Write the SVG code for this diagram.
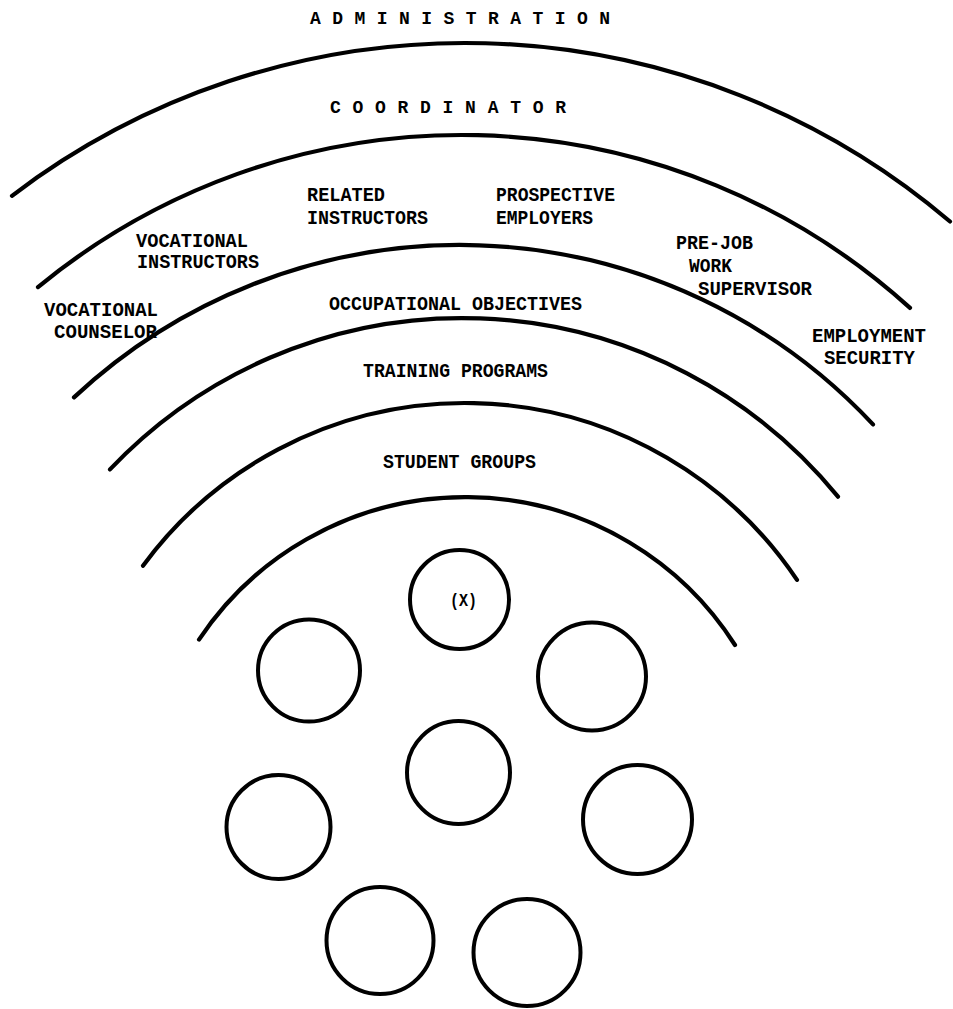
<svg xmlns="http://www.w3.org/2000/svg" width="953" height="1009" viewBox="0 0 953 1009">
<style>
  .arc { fill: none; stroke: #000; stroke-width: 4.2; stroke-linecap: round; }
  .grp { fill: none; stroke: #000; stroke-width: 4; }
  .lbl { font-family: "Liberation Mono", "DejaVu Sans Mono", monospace; font-weight: bold; font-size: 21px; fill: #000; }
  .sp { font-size: 18px; }
</style>
<rect width="953" height="1009" fill="#fff"/>

<g id="arcs">
  <path class="arc" d="M 12 195.8 A 748 748 0 0 1 950 221.5"/>
  <path class="arc" d="M 38 287.1 A 667 667 0 0 1 910 307.9"/>
  <path class="arc" d="M 74 397.4 A 565 565 0 0 1 873 424.4"/>
  <path class="arc" d="M 110 469.4 A 485 485 0 0 1 838 496.7"/>
  <path class="arc" d="M 143 565.7 A 400 400 0 0 1 797 579.9"/>
  <path class="arc" d="M 199 639.6 A 320 320 0 0 1 735 645"/>
</g>

<g id="labels">
  <text class="lbl sp" x="310" y="24" textLength="300" lengthAdjust="spacing">ADMINISTRATION</text>
  <text class="lbl sp" x="330" y="112.5" textLength="236" lengthAdjust="spacing">COORDINATOR</text>
  <g id="related-instructors">
    <text class="lbl" x="307" y="201" textLength="78" lengthAdjust="spacingAndGlyphs">RELATED</text>
    <text class="lbl" x="307" y="224" textLength="121" lengthAdjust="spacingAndGlyphs">INSTRUCTORS</text>
  </g>
  <g id="prospective-employers">
    <text class="lbl" x="496" y="201" textLength="119" lengthAdjust="spacingAndGlyphs">PROSPECTIVE</text>
    <text class="lbl" x="496" y="224" textLength="97" lengthAdjust="spacingAndGlyphs">EMPLOYERS</text>
  </g>
  <g id="vocational-instructors">
    <text class="lbl" x="136" y="247" textLength="112" lengthAdjust="spacingAndGlyphs">VOCATIONAL</text>
    <text class="lbl" x="137" y="268" textLength="122" lengthAdjust="spacingAndGlyphs">INSTRUCTORS</text>
  </g>
  <g id="vocational-counselor">
    <text class="lbl" x="44" y="316" textLength="114" lengthAdjust="spacingAndGlyphs">VOCATIONAL</text>
    <text class="lbl" x="54" y="338" textLength="103" lengthAdjust="spacingAndGlyphs">COUNSELOR</text>
  </g>
  <g id="pre-job-work-supervisor">
    <text class="lbl" x="676" y="249" textLength="77" lengthAdjust="spacingAndGlyphs">PRE-JOB</text>
    <text class="lbl" x="689" y="272" textLength="43" lengthAdjust="spacingAndGlyphs">WORK</text>
    <text class="lbl" x="698" y="295" textLength="114" lengthAdjust="spacingAndGlyphs">SUPERVISOR</text>
  </g>
  <g id="employment-security">
    <text class="lbl" x="812" y="342" textLength="114" lengthAdjust="spacingAndGlyphs">EMPLOYMENT</text>
    <text class="lbl" x="824" y="364" textLength="91" lengthAdjust="spacingAndGlyphs">SECURITY</text>
  </g>
  <text id="occupational-objectives" class="lbl" x="329" y="310" textLength="253" lengthAdjust="spacingAndGlyphs">OCCUPATIONAL OBJECTIVES</text>
  <text id="training-programs" class="lbl" x="363" y="377" textLength="185" lengthAdjust="spacingAndGlyphs">TRAINING PROGRAMS</text>
  <text id="student-groups" class="lbl" x="383" y="468" textLength="153" lengthAdjust="spacingAndGlyphs">STUDENT GROUPS</text>
</g>

<g id="groups">
  <g id="group-x">
    <circle class="grp" cx="459.5" cy="599.5" r="49.5"/>
    <text class="lbl" x="450" y="606" textLength="27" lengthAdjust="spacingAndGlyphs" style="font-size:18px">(X)</text>
  </g>
  <g id="group-2"><circle class="grp" cx="309" cy="670.5" r="51"/></g>
  <g id="group-3"><circle class="grp" cx="592" cy="676.5" r="54"/></g>
  <g id="group-4"><circle class="grp" cx="458.5" cy="772.5" r="51.5"/></g>
  <g id="group-5"><circle class="grp" cx="278.5" cy="827" r="52"/></g>
  <g id="group-6"><circle class="grp" cx="637.5" cy="819.5" r="54.5"/></g>
  <g id="group-7"><circle class="grp" cx="380" cy="940.5" r="53.5"/></g>
  <g id="group-8"><circle class="grp" cx="527" cy="952.5" r="53.5"/></g>
</g>
</svg>
